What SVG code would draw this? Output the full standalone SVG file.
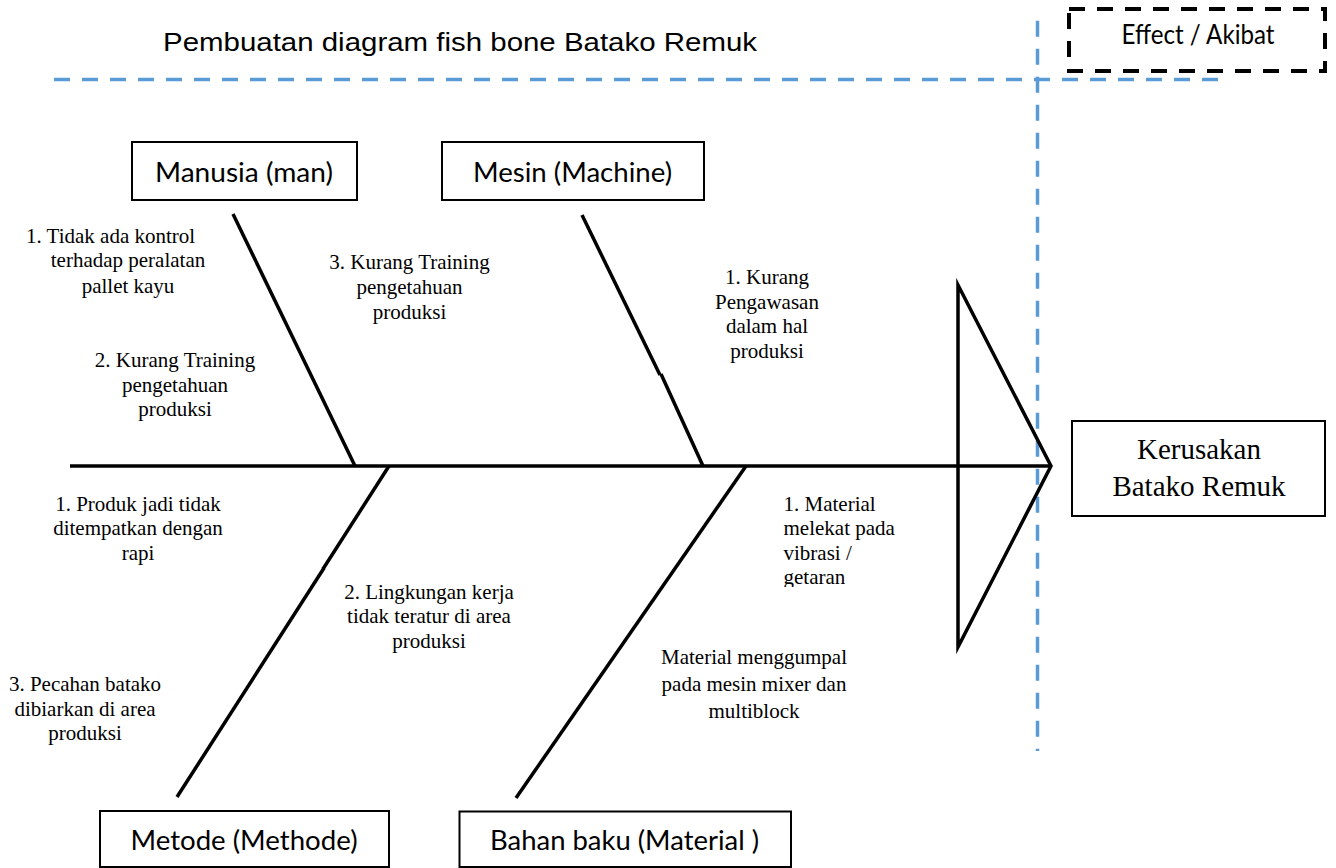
<svg xmlns="http://www.w3.org/2000/svg" width="1336" height="868" viewBox="0 0 1336 868">
  <style>
    .box { fill: #fff; stroke: #000; stroke-width: 2; }
    .cat { font-family: Lato, "Liberation Sans", sans-serif; font-size: 27px; fill: #000; text-anchor: middle; }
    .cause { font-family: "Liberation Serif", "Times New Roman", serif; font-size: 21px; fill: #000; }
    .mid { text-anchor: middle; }
    .bone { stroke: #000; stroke-width: 3.5; fill: none; }
    .guide { stroke: #5b9bd5; stroke-width: 3.5; stroke-dasharray: 16 12; fill: none; }
  </style>
  <defs>
    <clipPath id="clip-vibrasi">
      <rect x="770" y="485" width="150" height="102"/>
    </clipPath>
  </defs>

  <rect width="1336" height="868" fill="#fff"/>

  <!-- page title -->
  <g id="title">
    <text x="163" y="51" font-family="'Liberation Sans', Arial, sans-serif" font-size="26" textLength="594" lengthAdjust="spacingAndGlyphs" fill="#000">Pembuatan diagram fish bone Batako Remuk</text>
  </g>

  <!-- dashed guide lines -->
  <g id="guides">
    <line class="guide" x1="54" y1="79.5" x2="1218" y2="79.5"/>
    <line class="guide" x1="1037.5" y1="20.7" x2="1037.5" y2="751"/>
  </g>

  <!-- effect heading -->
  <g id="effect-heading">
    <rect x="1069" y="9" width="256" height="62" fill="none" stroke="#000" stroke-width="4" stroke-dasharray="16 12"/>
    <text class="cat" x="1198" y="44" font-size="25" textLength="153" lengthAdjust="spacingAndGlyphs">Effect / Akibat</text>
  </g>

  <!-- spine, bones and head -->
  <g id="connectors">
    <line class="bone" x1="70" y1="466" x2="1052" y2="466"/>
    <!-- upper bones -->
    <line class="bone" x1="233" y1="214" x2="355" y2="466"/>
    <line class="bone" x1="582" y1="215" x2="660" y2="375"/>
    <line class="bone" x1="661" y1="374" x2="703" y2="466"/>
    <!-- lower bones -->
    <line class="bone" x1="389" y1="466" x2="323" y2="569"/>
    <line class="bone" x1="324" y1="568" x2="177" y2="797"/>
    <line class="bone" x1="746" y1="466" x2="516" y2="798"/>
    <!-- fish head -->
    <polygon class="bone" points="958,285 1051,466 958,647" stroke-miterlimit="10"/>
  </g>

  <!-- category nodes -->
  <g id="node-man">
    <rect class="box" x="132" y="142" width="225" height="58"/>
    <text class="cat" x="244" y="182" textLength="178" lengthAdjust="spacingAndGlyphs">Manusia (man)</text>
  </g>
  <g id="node-machine">
    <rect class="box" x="442" y="142" width="262" height="58"/>
    <text class="cat" x="572.5" y="182" textLength="199" lengthAdjust="spacingAndGlyphs">Mesin (Machine)</text>
  </g>
  <g id="node-method">
    <rect class="box" x="100" y="811" width="289" height="56"/>
    <text class="cat" x="244" y="850" textLength="227" lengthAdjust="spacingAndGlyphs">Metode (Methode)</text>
  </g>
  <g id="node-material">
    <rect class="box" x="459.5" y="811.5" width="331.5" height="55.5"/>
    <text class="cat" x="624.5" y="850" textLength="269" lengthAdjust="spacingAndGlyphs">Bahan baku (Material )</text>
  </g>

  <!-- effect node -->
  <g id="node-effect">
    <rect class="box" x="1072" y="421" width="253" height="95"/>
    <text x="1199" y="459" font-family="'Liberation Serif', 'Times New Roman', serif" font-size="29" text-anchor="middle" fill="#000">Kerusakan</text>
    <text x="1199" y="496" font-family="'Liberation Serif', 'Times New Roman', serif" font-size="29" text-anchor="middle" fill="#000">Batako Remuk</text>
  </g>

  <!-- causes: man -->
  <g id="cause-man-1" class="cause">
    <text x="26" y="243">1. Tidak ada kontrol</text>
    <text class="mid" x="128" y="267">terhadap peralatan</text>
    <text class="mid" x="128" y="293">pallet kayu</text>
  </g>
  <g id="cause-man-2" class="cause mid">
    <text x="175" y="367">2. Kurang Training</text>
    <text x="175" y="392">pengetahuan</text>
    <text x="175" y="416">produksi</text>
  </g>
  <g id="cause-man-3" class="cause mid">
    <text x="409.5" y="269">3. Kurang Training</text>
    <text x="409.5" y="294">pengetahuan</text>
    <text x="409.5" y="319">produksi</text>
  </g>

  <!-- causes: machine -->
  <g id="cause-machine-1" class="cause mid">
    <text x="767" y="284">1. Kurang</text>
    <text x="767" y="309">Pengawasan</text>
    <text x="767" y="333">dalam hal</text>
    <text x="767" y="358">produksi</text>
  </g>

  <!-- causes: method -->
  <g id="cause-method-1" class="cause mid">
    <text x="138" y="511">1. Produk jadi tidak</text>
    <text x="138" y="535">ditempatkan dengan</text>
    <text x="138" y="560">rapi</text>
  </g>
  <g id="cause-method-2" class="cause mid">
    <text x="429" y="599">2. Lingkungan kerja</text>
    <text x="429" y="623">tidak teratur di area</text>
    <text x="429" y="648">produksi</text>
  </g>
  <g id="cause-method-3" class="cause mid">
    <text x="85" y="691">3. Pecahan batako</text>
    <text x="85" y="716">dibiarkan di area</text>
    <text x="85" y="740">produksi</text>
  </g>

  <!-- causes: material -->
  <g id="cause-material-1" class="cause" clip-path="url(#clip-vibrasi)">
    <text x="783.5" y="511">1. Material</text>
    <text x="783.5" y="535">melekat pada</text>
    <text x="783.5" y="560">vibrasi /</text>
    <text x="783.5" y="584">getaran</text>
  </g>
  <g id="cause-material-2" class="cause mid">
    <text x="754" y="664">Material menggumpal</text>
    <text x="754" y="691">pada mesin mixer dan</text>
    <text x="754" y="718">multiblock</text>
  </g>
</svg>
